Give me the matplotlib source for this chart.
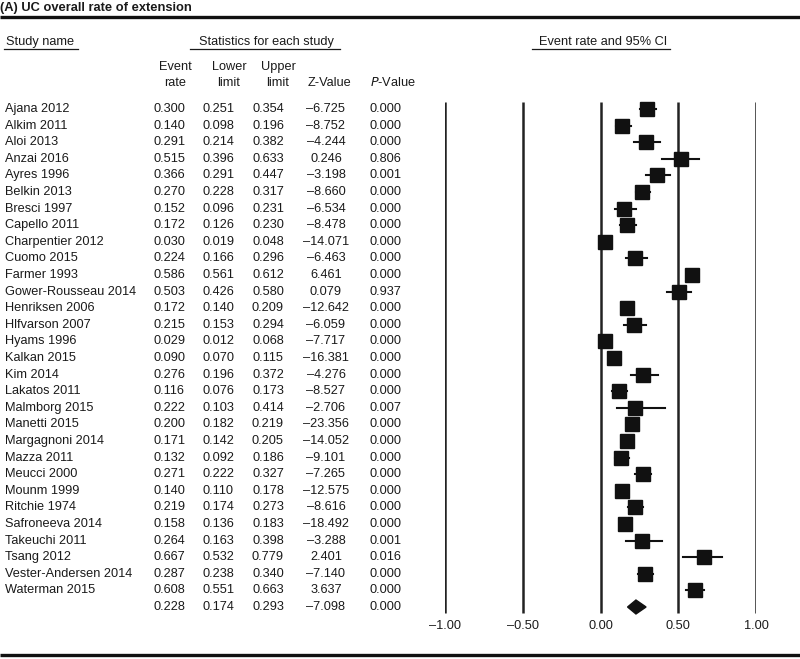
import matplotlib.pyplot as plt
from matplotlib.transforms import blended_transform_factory
from matplotlib.patches import Polygon

plt.rcParams['font.family'] = ['Liberation Sans', 'DejaVu Sans']

studies = ['Ajana 2012', 'Alkim 2011', 'Aloi 2013', 'Anzai 2016', 'Ayres 1996',
           'Belkin 2013', 'Bresci 1997', 'Capello 2011', 'Charpentier 2012', 'Cuomo 2015',
           'Farmer 1993', 'Gower-Rousseau 2014', 'Henriksen 2006', 'Hlfvarson 2007',
           'Hyams 1996', 'Kalkan 2015', 'Kim 2014', 'Lakatos 2011', 'Malmborg 2015',
           'Manetti 2015', 'Margagnoni 2014', 'Mazza 2011', 'Meucci 2000', 'Mounm 1999',
           'Ritchie 1974', 'Safroneeva 2014', 'Takeuchi 2011', 'Tsang 2012',
           'Vester-Andersen 2014', 'Waterman 2015']
event_rate = [0.300, 0.140, 0.291, 0.515, 0.366, 0.270, 0.152, 0.172, 0.030, 0.224,
              0.586, 0.503, 0.172, 0.215, 0.029, 0.090, 0.276, 0.116, 0.222, 0.200,
              0.171, 0.132, 0.271, 0.140, 0.219, 0.158, 0.264, 0.667, 0.287, 0.608]
lower = [0.251, 0.098, 0.214, 0.396, 0.291, 0.228, 0.096, 0.126, 0.019, 0.166,
         0.561, 0.426, 0.140, 0.153, 0.012, 0.070, 0.196, 0.076, 0.103, 0.182,
         0.142, 0.092, 0.222, 0.110, 0.174, 0.136, 0.163, 0.532, 0.238, 0.551]
upper = [0.354, 0.196, 0.382, 0.633, 0.447, 0.317, 0.231, 0.230, 0.048, 0.296,
         0.612, 0.580, 0.209, 0.294, 0.068, 0.115, 0.372, 0.173, 0.414, 0.219,
         0.205, 0.186, 0.327, 0.178, 0.273, 0.183, 0.398, 0.779, 0.340, 0.663]
z_value = [-6.725, -8.752, -4.244, 0.246, -3.198, -8.660, -6.534, -8.478, -14.071, -6.463,
           6.461, 0.079, -12.642, -6.059, -7.717, -16.381, -4.276, -8.527, -2.706, -23.356,
           -14.052, -9.101, -7.265, -12.575, -8.616, -18.492, -3.288, 2.401, -7.140, 3.637]
p_value = [0.000, 0.000, 0.000, 0.806, 0.001, 0.000, 0.000, 0.000, 0.000, 0.000,
           0.000, 0.937, 0.000, 0.000, 0.000, 0.000, 0.000, 0.000, 0.007, 0.000,
           0.000, 0.000, 0.000, 0.000, 0.000, 0.000, 0.001, 0.016, 0.000, 0.000]
summary = [0.228, 0.174, 0.293, -7.098, 0.000]
x_ticks = [-1.0, -0.5, 0.0, 0.5, 1.0]

W, H = 800, 659
row0, step = 109, 16.6   # pixel y of first row and row spacing

fig = plt.figure(figsize=(W / 100, H / 100), dpi=100)
ax = fig.add_axes([445 / W, 0, 311 / W, 1])
ax.set_xlim(-1, 1)
ax.set_ylim((H - row0) / step, -row0 / step)
ax.axis('off')

def py(p):
    return (p - row0) / step

tr = blended_transform_factory(fig.transFigure, ax.transData)
fs = 9.2
col = '#1a1a1a'

def fmt(v, nd=3):
    s = f'{v:.{nd}f}'
    return s.replace('-', '\u2013')

# title and thick rules
fig.text(0, 1 - 8 / H, '(A) UC overall rate of extension', fontsize=9.3,
         fontweight='bold', va='center', ha='left', color=col)
for yy in [17, 655]:
    ax.plot([0, 1], [py(yy), py(yy)], transform=tr, color='#111', lw=2.4,
            solid_capstyle='butt', clip_on=False)

# header blocks
ax.text(6 / W, py(42), 'Study name', transform=tr, fontsize=fs, va='center', color=col)
ax.plot([4 / W, 78 / W], [py(49), py(49)], transform=tr, color=col, lw=0.9, clip_on=False)
ax.text(266 / W, py(42), 'Statistics for each study', transform=tr, fontsize=fs,
        ha='center', va='center', color=col)
ax.plot([190 / W, 340 / W], [py(49), py(49)], transform=tr, color=col, lw=0.9, clip_on=False)
ax.text(603 / W, py(42), 'Event rate and 95% CI', transform=tr, fontsize=fs,
        ha='center', va='center', color=col)
ax.plot([532 / W, 670 / W], [py(49), py(49)], transform=tr, color=col, lw=0.9, clip_on=False)

col_x = [169, 218, 268, 326, 385]
head_x = [175, 229, 278, 330, 393]
for hx, t1, t2 in zip(head_x[:3], ['Event', 'Lower', 'Upper'], ['rate', 'limit', 'limit']):
    ax.text(hx / W, py(67), t1, transform=tr, fontsize=fs, ha='center', va='center', color=col)
    ax.text(hx / W, py(83), t2, transform=tr, fontsize=fs, ha='center', va='center', color=col)
ax.text(head_x[3] / W, py(83), 'Z-Value', transform=tr, fontsize=fs, ha='center', va='center', color=col)
ax.text(head_x[4] / W, py(83), '$P$-Value', transform=tr, fontsize=fs, ha='center', va='center',
        color=col, math_fontfamily='dejavusans')

# table rows
for i, name in enumerate(studies):
    ax.text(5 / W, i, name, transform=tr, fontsize=fs, va='center', color=col)
    vals = [event_rate[i], lower[i], upper[i], z_value[i], p_value[i]]
    for cx, v in zip(col_x, vals):
        ax.text(cx / W, i, fmt(v), transform=tr, fontsize=fs, ha='center', va='center', color=col)
n = len(studies)
for cx, v in zip(col_x, summary):
    ax.text(cx / W, n, fmt(v), transform=tr, fontsize=fs, ha='center', va='center', color=col)

# forest plot
for xt in x_ticks:
    ax.plot([xt, xt], [py(102), py(613)], color='#222', lw=1.8, solid_capstyle='butt')
    ax.text(xt, py(626), fmt(xt, 2), fontsize=fs, ha='center', va='center', color=col)

for i in range(n):
    ax.plot([lower[i], upper[i]], [i, i], color='#111', lw=1.5)
    ax.plot(event_rate[i], i, marker='s', ms=10, color='#111', mec='#111')

dia = Polygon([[summary[1], n], [summary[0], n - 0.42], [summary[2], n], [summary[0], n + 0.42]],
              closed=True, color='#111')
ax.add_patch(dia)

fig.savefig('out.png', dpi=100)
